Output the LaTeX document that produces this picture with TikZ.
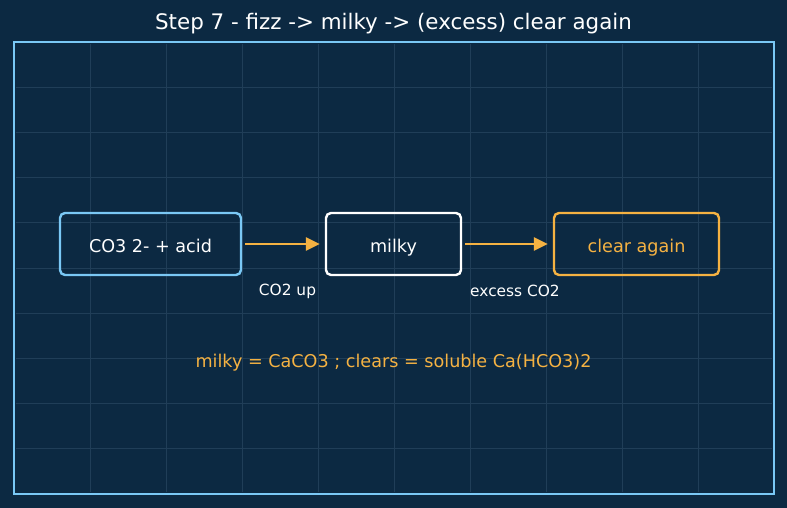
\documentclass[tikz,border=0pt]{standalone}
\usepackage{fontspec}
\setmainfont{DejaVu Sans}
\usetikzlibrary{arrows.meta}
\definecolor{bgblue}{RGB}{12,41,66}
\definecolor{gridblue}{RGB}{32,62,88}
\definecolor{skyblue}{RGB}{122,200,245}
\definecolor{amber}{RGB}{245,178,66}
\tikzset{
  stepbox/.style={draw, rounded corners=5pt, line width=2.4pt, minimum height=62pt, text height=16pt, text depth=0pt, font=\fontsize{17.6}{20}\selectfont},
  flow/.style={amber, line width=2.6pt, -{Triangle[length=14pt,width=13pt]}},
  note/.style={white, font=\fontsize{15.4}{18}\selectfont}
}

\begin{document}
\begin{tikzpicture}[x=1pt, y=-1pt]
        \fill[bgblue] (0,0) rectangle (787,508);
        \foreach \i in {1,...,9}
            \draw[gridblue, line width=0.9pt] ({14+76*\i},44) -- ({14+76*\i},492);
        \foreach \j in {1,...,9}
            \draw[gridblue, line width=0.9pt] (16,{42+45.2*\j}) -- (772,{42+45.2*\j});
        \draw[skyblue, line width=1.3pt] (14,42) rectangle (774,494);

        \node[white, font=\fontsize{21.4}{24}\selectfont] (title) at (393.5,23.5) {Step 7 - fizz -> milky -> (excess) clear again};

        \node[stepbox, skyblue, text=white, minimum width=181pt] (acid) at (150.5,244) {CO3 2- + acid};
        \node[stepbox, white, minimum width=135pt] (milky) at (393.5,244) {milky};
        \node[stepbox, amber, minimum width=165pt] (clear) at (636.5,244) {clear again};

        \draw[flow, shorten <=3pt, shorten >=5pt] (acid) -- (milky);
        \draw[flow, shorten <=3pt, shorten >=5pt] (milky) -- (clear);

        \node[note] (up) at (287.5,291) {CO2 up};
        \node[note] (excess) at (515,291) {excess CO2};

        \node[amber, font=\fontsize{17.6}{20}\selectfont] (summary) at (393.5,363) {milky = CaCO3 ; clears = soluble Ca(HCO3)2};
    \end{tikzpicture}
\end{document}
